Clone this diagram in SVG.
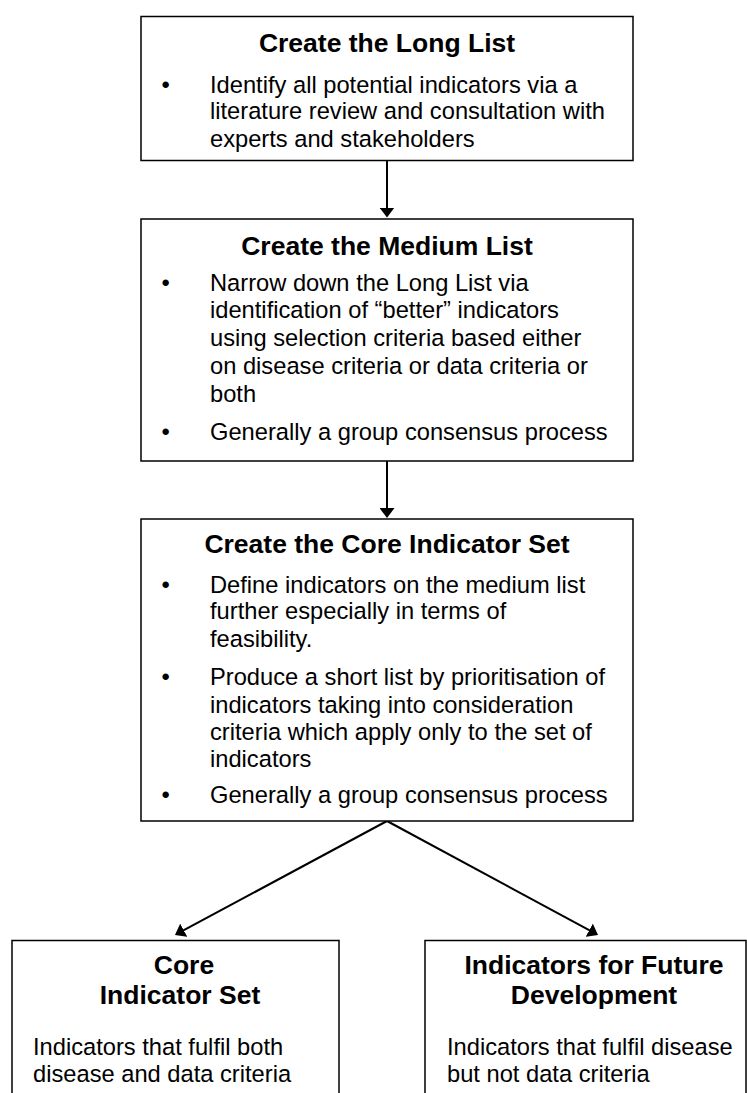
<svg xmlns="http://www.w3.org/2000/svg" width="747" height="1093" viewBox="0 0 747 1093">
<style>
.box{fill:#fff;stroke:#000;stroke-width:1.5}
.t{font-family:"Liberation Sans",Arial,sans-serif;font-size:26.5px;font-weight:bold;text-anchor:middle;fill:#000}
.b{font-family:"Liberation Sans",Arial,sans-serif;font-size:23.7px;fill:#000}
.c{fill:none;stroke:#000;stroke-width:2}
</style>
<defs>
<marker id="ah" markerUnits="userSpaceOnUse" markerWidth="10" markerHeight="15" viewBox="0 0 10 15" refX="2" refY="7.5" orient="auto">
<path d="M0,0 L10,7.5 L0,15 z" fill="#000"/>
</marker>
</defs>
<rect width="747" height="1093" fill="#fff"/>
<g id="connectors">
<line class="c" x1="387" y1="160.5" x2="387" y2="209.5" marker-end="url(#ah)"/>
<line class="c" x1="387" y1="461" x2="387" y2="510" marker-end="url(#ah)"/>
<line class="c" x1="387" y1="821" x2="182" y2="931.2" marker-end="url(#ah)"/>
<line class="c" x1="387" y1="821" x2="591" y2="931.2" marker-end="url(#ah)"/>
</g>
<g id="long-list">
<rect class="box" x="141" y="16.5" width="492" height="144"/>
<text class="t" x="387" y="52">Create the Long List</text>
<text class="b" x="161.5" y="92.7">•</text>
<text class="b" x="210" y="92.7">Identify all potential indicators via a</text>
<text class="b" x="210" y="119.3">literature review and consultation with</text>
<text class="b" x="210" y="146.7">experts and stakeholders</text>
</g>
<g id="medium-list">
<rect class="box" x="141" y="219" width="492" height="242"/>
<text class="t" x="387" y="255">Create the Medium List</text>
<text class="b" x="161.5" y="290.7">•</text>
<text class="b" x="210" y="290.7">Narrow down the Long List via</text>
<text class="b" x="210" y="318.3">identification of “better” indicators</text>
<text class="b" x="210" y="346">using selection criteria based either</text>
<text class="b" x="210" y="373.7">on disease criteria or data criteria or</text>
<text class="b" x="210" y="401.7">both</text>
<text class="b" x="161.5" y="440">•</text>
<text class="b" x="210" y="440">Generally a group consensus process</text>
</g>
<g id="core-set-process">
<rect class="box" x="141" y="519" width="492" height="302"/>
<text class="t" x="387" y="553">Create the Core Indicator Set</text>
<text class="b" x="161.5" y="592.7">•</text>
<text class="b" x="210" y="592.7">Define indicators on the medium list</text>
<text class="b" x="210" y="619.3">further especially in terms of</text>
<text class="b" x="210" y="646.7">feasibility.</text>
<text class="b" x="161.5" y="685">•</text>
<text class="b" x="210" y="685">Produce a short list by prioritisation of</text>
<text class="b" x="210" y="712.7">indicators taking into consideration</text>
<text class="b" x="210" y="740">criteria which apply only to the set of</text>
<text class="b" x="210" y="766.7">indicators</text>
<text class="b" x="161.5" y="803">•</text>
<text class="b" x="210" y="803">Generally a group consensus process</text>
</g>
<g id="core-indicator-set">
<rect class="box" x="12" y="940.5" width="327" height="170"/>
<text class="t" x="184" y="974.3">Core</text>
<text class="t" x="180" y="1004">Indicator Set</text>
<text class="b" x="33" y="1055">Indicators that fulfil both</text>
<text class="b" x="33" y="1081.7">disease and data criteria</text>
</g>
<g id="future-development">
<rect class="box" x="425" y="940.5" width="321" height="170"/>
<text class="t" x="594" y="974.3">Indicators for Future</text>
<text class="t" x="594" y="1004">Development</text>
<text class="b" x="447" y="1055">Indicators that fulfil disease</text>
<text class="b" x="447" y="1081.7">but not data criteria</text>
</g>
</svg>
